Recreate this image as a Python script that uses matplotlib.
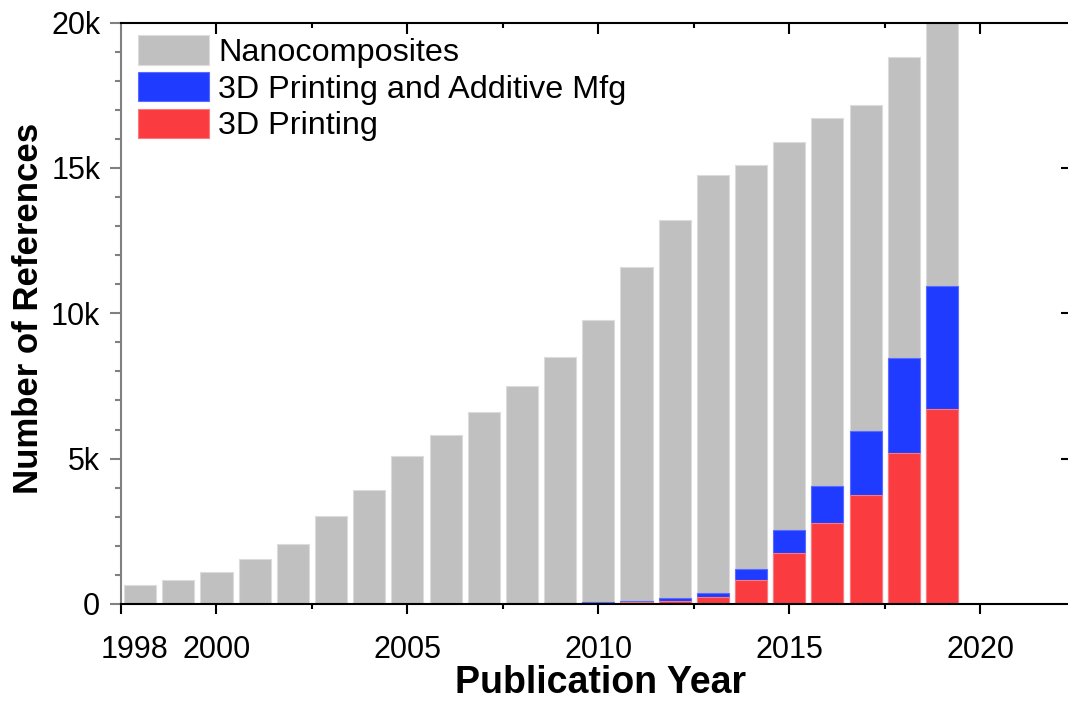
import numpy as np
import matplotlib
matplotlib.use("Agg")
import matplotlib.pyplot as plt
from matplotlib.transforms import ScaledTranslation

plt.rcParams['font.family'] = ['Liberation Sans', 'DejaVu Sans']

# Daten
years = np.arange(1998, 2020)
nano = [650, 820, 1090, 1550, 2070, 3020, 3920, 5090, 5810, 6610, 7510,
        8480, 9760, 11580, 13200, 14740, 15100, 15900, 16730, 17150, 18810, 20400]
am_3d = [0, 0, 0, 0, 0, 0, 0, 0, 5, 15, 25,
         50, 80, 100, 200, 370, 1210, 2540, 4070, 5950, 8450, 10950]
print_3d = [0, 0, 0, 0, 0, 0, 0, 0, 3, 8, 15,
            30, 50, 60, 110, 240, 820, 1750, 2800, 3750, 5190, 6700]

labels = ['Nanocomposites', '3D Printing and Additive Mfg', '3D Printing']
x_ticks = [1997.5, 2000, 2005, 2010, 2015, 2020]
x_ticklabels = ['1998', '2000', '2005', '2010', '2015', '2020']
y_ticks = [0, 5000, 10000, 15000, 20000]
y_ticklabels = ['0', '5k', '10k', '15k', '20k']

c_gray = '#c0c0c0'
c_blue = '#1f3bff'
c_red = '#fa3c40'

fig = plt.figure(figsize=(10.68, 7.06), dpi=100)
ax = fig.add_axes([0.1133, 0.1445, 0.8867, 0.8235])

w = 0.84
ax.bar(years, nano, width=w, color=c_gray, edgecolor='#dcdcdc', linewidth=0.8, label=labels[0])
ax.bar(years, am_3d, width=w, color=c_blue, edgecolor='#5a6cff', linewidth=0.8, label=labels[1])
ax.bar(years, print_3d, width=w, color=c_red, edgecolor='#fb7a7d', linewidth=0.8, label=labels[2])

ax.set_xlim(1997.5, 2022.3)
ax.set_ylim(0, 20000)

# Achsen-Stil
ax.spines['right'].set_visible(False)
ax.spines['left'].set_color('#808080')
ax.spines['left'].set_linewidth(1.5)
ax.spines['bottom'].set_linewidth(1.5)
ax.spines['top'].set_linewidth(1.5)

ax.set_xticks(x_ticks)
ax.set_xticklabels(x_ticklabels)
ax.set_xticks([2002.5, 2007.5, 2012.5, 2017.5], minor=True)
ax.set_yticks(y_ticks)
ax.set_yticklabels(y_ticklabels)
ax.set_yticks(np.arange(0, 20001, 1000), minor=True)

ax.tick_params(axis='x', which='major', direction='out', length=7.5, width=1.5,
               labelsize=22, color='black', pad=15, top=False)
ax.tick_params(axis='x', which='minor', direction='out', length=3.5, width=1.5, top=False)
ax.tick_params(axis='y', which='major', direction='out', length=8, width=1.5,
               labelsize=22, color='#808080', pad=7, right=False)
ax.tick_params(axis='y', which='minor', direction='out', length=4, width=1.5,
               color='#808080', right=False)

# 1998-Label etwas nach rechts
first = ax.get_xticklabels()[0]
first.set_transform(first.get_transform() + ScaledTranslation(13 / 100, 0, fig.dpi_scale_trans))

# obere / rechte Ticks nach innen
top = ax.secondary_xaxis('top')
top.set_xticks([2000, 2005, 2010, 2015, 2020])
top.set_xticks([2002.5, 2007.5, 2012.5, 2017.5], minor=True)
top.tick_params(which='major', direction='in', length=8, width=1.5, labeltop=False)
top.tick_params(which='minor', direction='in', length=3.5, width=1.5)
top.spines['top'].set_visible(False)

right = ax.secondary_yaxis('right')
right.set_yticks([5000, 10000, 15000])
right.tick_params(which='major', direction='in', length=5, width=1.5, labelright=False)
right.tick_params(which='minor', right=False)
right.spines['right'].set_visible(False)

ax.set_xlabel('Publication Year', fontsize=27, fontweight='bold')
ax.xaxis.set_label_coords(0.506, -0.105)
ax.set_ylabel('Number of References', fontsize=25, fontweight='bold')
ax.yaxis.set_label_coords(-0.080, 0.509)

ax.legend(loc='upper left', bbox_to_anchor=(0.018, 0.978), frameon=False,
          fontsize=23.3, borderpad=0, borderaxespad=0, handlelength=2.2,
          handleheight=1.02, labelspacing=0.12, handletextpad=0.28)

fig.savefig('out.png', dpi=100)
